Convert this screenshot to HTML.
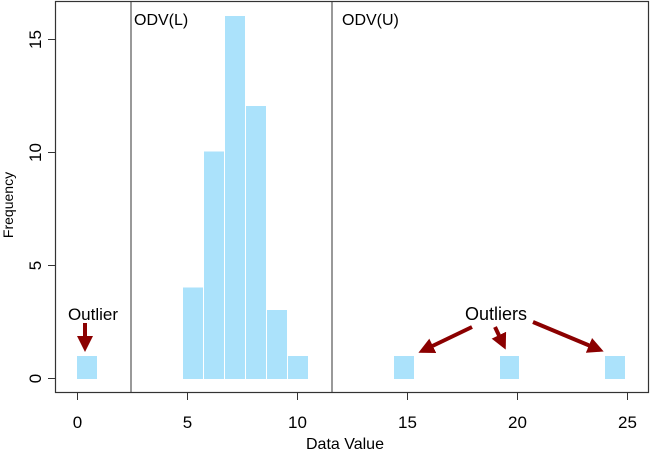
<!DOCTYPE html>
<html><head><style>body{margin:0;background:#fff}svg{display:block}text{font-family:"Liberation Sans",sans-serif}</style></head><body>
<svg width="650" height="454" xmlns="http://www.w3.org/2000/svg">
<defs><marker id="ah" markerWidth="4" markerHeight="4" refX="3" refY="2" orient="auto" markerUnits="strokeWidth"><path d="M0,0 L4,2 L0,4 z" fill="#8b0000"/></marker></defs>
<g fill="#abe2fb">
<rect x="77" y="356" width="20" height="23"/>
<rect x="183" y="287.5" width="20" height="91.5"/>
<rect x="204" y="151.5" width="20" height="227.5"/>
<rect x="225" y="16" width="20" height="363"/>
<rect x="246" y="106" width="20" height="273"/>
<rect x="267" y="310" width="20" height="69"/>
<rect x="288" y="356" width="20" height="23"/>
<rect x="394" y="356" width="20" height="23"/>
<rect x="500" y="356" width="19" height="23"/>
<rect x="605" y="356" width="20" height="23"/>
</g>
<rect x="55.5" y="1.5" width="593" height="391" fill="none" stroke="#333" stroke-width="1.2"/>
<line x1="131" y1="2" x2="131" y2="392" stroke="#333"/>
<line x1="332" y1="2" x2="332" y2="392" stroke="#333"/>
<g stroke="#333">
<line x1="48" y1="378.5" x2="55" y2="378.5"/><line x1="48" y1="265.5" x2="55" y2="265.5"/><line x1="48" y1="152.5" x2="55" y2="152.5"/><line x1="48" y1="39.5" x2="55" y2="39.5"/>
<line x1="77.5" y1="393" x2="77.5" y2="400"/><line x1="187.5" y1="393" x2="187.5" y2="400"/><line x1="297.5" y1="393" x2="297.5" y2="400"/><line x1="407.5" y1="393" x2="407.5" y2="400"/><line x1="517.5" y1="393" x2="517.5" y2="400"/><line x1="627.5" y1="393" x2="627.5" y2="400"/>
</g>
<g font-size="17" fill="#000" text-anchor="middle">
<text x="77.5" y="428">0</text><text x="187.5" y="428">5</text><text x="297.5" y="428">10</text><text x="407.5" y="428">15</text><text x="517.5" y="428">20</text><text x="627.5" y="428">25</text>
<text transform="translate(41,378.5) rotate(-90)">0</text>
<text transform="translate(41,265.5) rotate(-90)">5</text>
<text transform="translate(41,152.5) rotate(-90)">10</text>
<text transform="translate(41,39.5) rotate(-90)">15</text>
<text x="345" y="449" font-size="16">Data Value</text>
<text x="93" y="320">Outlier</text>
<text x="496" y="320" font-size="18">Outliers</text>
</g>
<text transform="translate(13,205) rotate(-90)" font-size="14" text-anchor="middle">Frequency</text>
<text x="134" y="25" font-size="16">ODV(L)</text>
<text x="342" y="25" font-size="16">ODV(U)</text>
<g stroke="#8b0000" stroke-width="4" marker-end="url(#ah)" fill="none">
<line x1="85" y1="323" x2="85" y2="348"/>
<line x1="472" y1="327" x2="422" y2="351"/>
<line x1="495" y1="327" x2="504" y2="346"/>
<line x1="533" y1="322" x2="600" y2="350"/>
</g>
</svg>
</body></html>
